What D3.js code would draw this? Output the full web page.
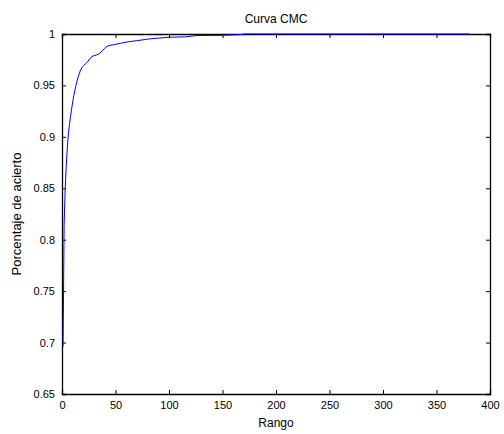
<!DOCTYPE html>
<html lang="en">
  <head>
    <meta charset="UTF-8" />
    <title>Curva CMC</title>
    <script src="https://d3js.org/d3.v7.min.js"></script>
    <style>
      body {
        margin: 0;
        background: #fff;
        font-family: "Liberation Sans", Arial, sans-serif;
      }
      text {
        fill: #000;
      }
    </style>
  </head>
  <body>
    <svg width="504" height="434"></svg>
    <script>
      // CMC curve (rank -> hit rate)
      const ranks = [1, 2, 3, 4, 5, 6, 7, 8, 9, 10, 11, 12, 13, 14, 15, 16, 17, 18, 19, 20,
        22, 24, 26, 28, 30, 32, 35, 38, 40, 42, 45, 48, 55, 62, 70, 80, 90, 100, 115, 126,
        150, 168, 170, 381];
      const acc = [0.696, 0.815, 0.85, 0.872, 0.89, 0.903, 0.912, 0.92, 0.927, 0.934, 0.94,
        0.945, 0.95, 0.954, 0.958, 0.961, 0.964, 0.966, 0.968, 0.969, 0.971, 0.973, 0.976,
        0.978, 0.979, 0.9795, 0.981, 0.984, 0.986, 0.988, 0.989, 0.9895, 0.991, 0.9925,
        0.9935, 0.995, 0.996, 0.9968, 0.9972, 0.9985, 0.9987, 0.9995, 1, 1];

      const xTicks = [0, 50, 100, 150, 200, 250, 300, 350, 400];
      const yTicks = [0.65, 0.7, 0.75, 0.8, 0.85, 0.9, 0.95, 1];

      const svg = d3.select("svg");
      const margin = { top: 34, right: 14, bottom: 40, left: 62 };
      const width = 504, height = 434;

      const x = d3.scaleLinear().domain([0, 400]).range([margin.left, width - margin.right]);
      const y = d3.scaleLinear().domain([0.65, 1]).range([height - margin.bottom, margin.top]);

      const fmt = (d) => String(d);

      // axes box with inward ticks on every side
      svg.append("g")
        .attr("transform", `translate(0,${height - margin.bottom})`)
        .call(d3.axisBottom(x).tickValues(xTicks).tickSize(-4).tickPadding(7).tickFormat(fmt));
      svg.append("g")
        .attr("transform", `translate(0,${margin.top})`)
        .call(d3.axisTop(x).tickValues(xTicks).tickSize(-4).tickFormat(""));
      svg.append("g")
        .attr("transform", `translate(${margin.left},0)`)
        .call(d3.axisLeft(y).tickValues(yTicks).tickSize(-4).tickPadding(7).tickFormat(fmt));
      svg.append("g")
        .attr("transform", `translate(${width - margin.right},0)`)
        .call(d3.axisRight(y).tickValues(yTicks).tickSize(-4).tickFormat(""));

      svg.selectAll(".domain").attr("stroke", "#000").attr("stroke-width", 1.3);
      svg.selectAll(".tick line").attr("stroke", "#000");
      svg.selectAll(".tick text").attr("font-size", 11).attr("font-family", "Liberation Sans, Arial, sans-serif").attr("fill", "#000");

      const pts = ranks.map((r, i) => [r, acc[i]]);
      svg.append("path")
        .datum(pts)
        .attr("fill", "none")
        .attr("stroke", "#0000ff")
        .attr("stroke-width", 1)
        .attr("d", d3.line().x((d) => x(d[0])).y((d) => y(d[1])));

      svg.append("text")
        .attr("x", (margin.left + width - margin.right) / 2)
        .attr("y", 23)
        .attr("text-anchor", "middle")
        .attr("font-size", 12)
        .text("Curva CMC");

      svg.append("text")
        .attr("x", (margin.left + width - margin.right) / 2)
        .attr("y", 427)
        .attr("text-anchor", "middle")
        .attr("font-size", 12)
        .text("Rango");

      svg.append("text")
        .attr("transform", `translate(21,${(margin.top + height - margin.bottom) / 2 - 0}) rotate(-90)`)
        .attr("text-anchor", "middle")
        .attr("font-size", 13)
        .text("Porcentaje de acierto");
    </script>
  </body>
</html>
